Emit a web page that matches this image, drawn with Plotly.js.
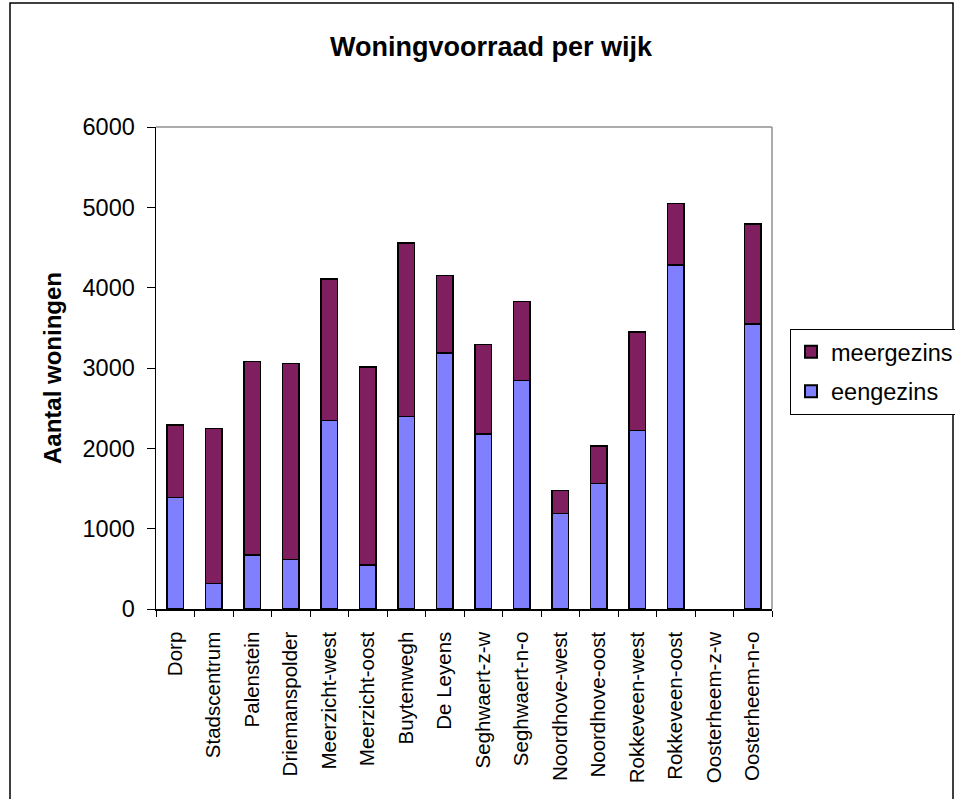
<!DOCTYPE html>
<html>
<head>
<meta charset="utf-8">
<script src="https://cdn.plot.ly/plotly-3.0.1.min.js"></script>
<style>
  html, body { margin: 0; padding: 0; background: #ffffff; overflow: hidden; }
  #chart { width: 955px; height: 799px; }
</style>
</head>
<body>
<div id="chart"></div>
<script>
// Woningvoorraad per wijk: eengezins- en meergezinswoningen
const wijken = [
  "Dorp", "Stadscentrum", "Palenstein", "Driemanspolder", "Meerzicht-west",
  "Meerzicht-oost", "Buytenwegh", "De Leyens", "Seghwaert-z-w", "Seghwaert-n-o",
  "Noordhove-west", "Noordhove-oost", "Rokkeveen-west", "Rokkeveen-oost",
  "Oosterheem-z-w", "Oosterheem-n-o"
];
// Oosterheem-z-w heeft (nog) geen woningen: geen balk
const eengezins = [
  1385, 320, 675, 615, 2345,
  550, 2395, 3185, 2180, 2845,
  1190, 1560, 2220, 4280,
  null, 3550
];
const meergezins = [
  905, 1925, 2405, 2440, 1765,
  2465, 2160, 965, 1110, 985,
  285, 470, 1230, 770,
  null, 1240
];
const yTicks = [0, 1000, 2000, 3000, 4000, 5000, 6000];

const FONT = "Liberation Sans, Arial, sans-serif";

// plot area in pixels
const L = 156, R = 772, T = 127, B = 609;
const W = 955, H = 799;
const pw = R - L, ph = B - T;
const px = x => (x - L) / pw;
const py = y => (B - y) / ph;

const traces = [
  {
    type: "bar", name: "eengezins", x: wijken, y: eengezins,
    legendgroup: "een", legendrank: 2,
    marker: { color: "#8080ff", line: { color: "#000000", width: 1.5 } },
    hoverinfo: "x+y+name"
  },
  {
    type: "bar", name: "meergezins", x: wijken, y: meergezins,
    legendgroup: "meer", legendrank: 1,
    marker: { color: "#801f5f", line: { color: "#000000", width: 1.5 } },
    hoverinfo: "x+y+name"
  }
];

const layout = {
  width: W, height: H,
  margin: { l: L, r: W - R, t: T, b: H - B, pad: 0, autoexpand: false },
  paper_bgcolor: "#ffffff",
  plot_bgcolor: "#ffffff",
  font: { family: FONT, color: "#000000" },
  barmode: "stack",
  bargap: 0.57,
  showlegend: true,
  title: {
    text: "<b>Woningvoorraad per wijk</b>",
    font: { family: FONT, size: 27, color: "#000000" },
    x: px(491), xref: "paper", xanchor: "center",
    y: 1 - 47 / H, yref: "container", yanchor: "middle"
  },
  xaxis: {
    type: "category",
    tickangle: -90,
    tickfont: { family: FONT, size: 20.5, color: "#000000" },
    ticks: "outside", ticklen: 6, tickcolor: "#000000", tickwidth: 1,
    tickson: "boundaries",
    showline: true, linecolor: "#000000", linewidth: 1.5,
    showgrid: false, zeroline: false,
    ticklabelstandoff: 13,
    fixedrange: true
  },
  yaxis: {
    range: [0, 6000],
    tickvals: yTicks,
    ticktext: yTicks.map(String),
    tickfont: { family: FONT, size: 23.5, color: "#000000" },
    ticks: "outside", ticklen: 8, tickcolor: "#000000", tickwidth: 1,
    showline: true, linecolor: "#000000", linewidth: 1.5,
    showgrid: false, zeroline: false,
    ticklabelstandoff: 7,
    title: {
      text: "<b>Aantal woningen</b>",
      font: { family: FONT, size: 24, color: "#000000" },
      standoff: 14
    },
    fixedrange: true
  },
  legend: {
    x: px(790), y: py(329), xanchor: "left", yanchor: "top",
    traceorder: "grouped",
    tracegroupgap: 6,
    bordercolor: "#000000", borderwidth: 1,
    bgcolor: "#ffffff",
    font: { family: FONT, size: 23.5, color: "#000000" },
    itemsizing: "constant"
  },
  shapes: [
    // plot area frame (top and right edges)
    { type: "line", xref: "paper", yref: "paper", x0: 0, x1: 1, y0: 1, y1: 1,
      line: { color: "#909090", width: 1.5 } },
    { type: "line", xref: "paper", yref: "paper", x0: 1, x1: 1, y0: 0, y1: 1,
      line: { color: "#909090", width: 1.5 } },
    // outer chart frame
    { type: "rect", xref: "paper", yref: "paper",
      x0: px(10), x1: px(953), y0: py(3), y1: py(815),
      line: { color: "#000000", width: 1.5 }, fillcolor: "rgba(0,0,0,0)", layer: "below" }
  ]
};

Plotly.newPlot("chart", traces, layout, { displayModeBar: false, staticPlot: true });
</script>
</body>
</html>
